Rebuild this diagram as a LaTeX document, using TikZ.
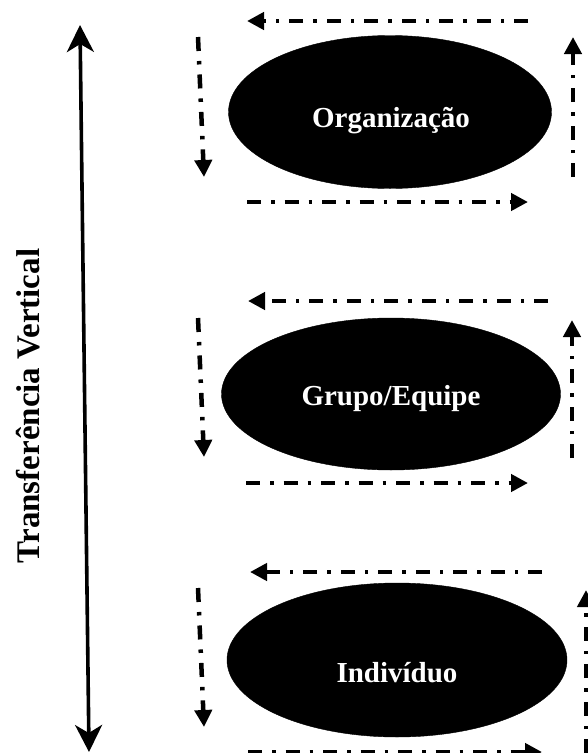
\documentclass[tikz,border=0pt]{standalone}
\usepackage{fontspec}
\setmainfont{Liberation Serif}
\usetikzlibrary{shapes.geometric,arrows.meta}
\tikzstyle{every node}=[inner sep=0pt]
\tikzstyle{nivel}=[ellipse,fill=black,draw=black]
\tikzstyle{rotulo}=[text=white,anchor=base,font=\bfseries\fontsize{29}{30}\selectfont]
\tikzstyle{fluxo}=[line width=4.5pt,dash pattern=on 14pt off 10pt on 3.5pt off 10pt,
  -{Triangle[length=17pt,width=17pt]}]
\tikzstyle{vert}=[line width=3.6pt,{Stealth[length=27pt,width=27pt,inset=8pt]}-{Stealth[length=27pt,width=27pt,inset=8pt]}]

\begin{document}
\begin{tikzpicture}[x=1pt,y=-1pt]
	\useasboundingbox (0,0) rectangle (587,753);

	% niveis
	\node [nivel,minimum width=323pt,minimum height=153pt] (org) at (390,112) {};
	\node [rotulo] (org-txt) at (391,127) {Organização};
	\node [nivel,minimum width=339pt,minimum height=152pt] (grupo) at (391,394) {};
	\node [rotulo] (grupo-txt) at (391,405) {Grupo/Equipe};
	\node [nivel,minimum width=340pt,minimum height=154pt] (indiv) at (397,660) {};
	\node [rotulo] (indiv-txt) at (397,682) {Indivíduo};

	% transferencia vertical
	\coordinate (topo) at (80,25);
	\coordinate (base) at (89,752);
	\draw [vert] (base) -- (topo);
	\node [rotate=90,font=\bfseries\fontsize{33}{35}\selectfont] (transf) at (28,406) {Transferência Vertical};

	% fluxos - organizacao
	\coordinate (o-a1) at (528,21);  \coordinate (o-a2) at (247,21);
	\coordinate (o-b1) at (198,37);  \coordinate (o-b2) at (204,177);
	\coordinate (o-c1) at (247,202); \coordinate (o-c2) at (528,202);
	\coordinate (o-d1) at (573,177); \coordinate (o-d2) at (573,37);
	\draw [fluxo] (o-a1) -- (o-a2);
	\draw [fluxo] (o-b1) -- (o-b2);
	\draw [fluxo] (o-c1) -- (o-c2);
	\draw [fluxo] (o-d1) -- (o-d2);

	% fluxos - grupo/equipe
	\coordinate (g-a1) at (548,301); \coordinate (g-a2) at (248,301);
	\coordinate (g-b1) at (198,318); \coordinate (g-b2) at (204,457);
	\coordinate (g-c1) at (246,483); \coordinate (g-c2) at (528,483);
	\coordinate (g-d1) at (572,458); \coordinate (g-d2) at (572,320);
	\draw [fluxo] (g-a1) -- (g-a2);
	\draw [fluxo] (g-b1) -- (g-b2);
	\draw [fluxo] (g-c1) -- (g-c2);
	\draw [fluxo] (g-d1) -- (g-d2);

	% fluxos - individuo
	\coordinate (i-a1) at (542,572); \coordinate (i-a2) at (250,572);
	\coordinate (i-b1) at (198,588); \coordinate (i-b2) at (204,727);
	\coordinate (i-c1) at (248,752); \coordinate (i-c2) at (542,752);
	\coordinate (i-d1) at (586,753); \coordinate (i-d2) at (586,590);
	\draw [fluxo] (i-a1) -- (i-a2);
	\draw [fluxo] (i-b1) -- (i-b2);
	\draw [fluxo] (i-c1) -- (i-c2);
	\draw [fluxo] (i-d1) -- (i-d2);
\end{tikzpicture}
\end{document}
